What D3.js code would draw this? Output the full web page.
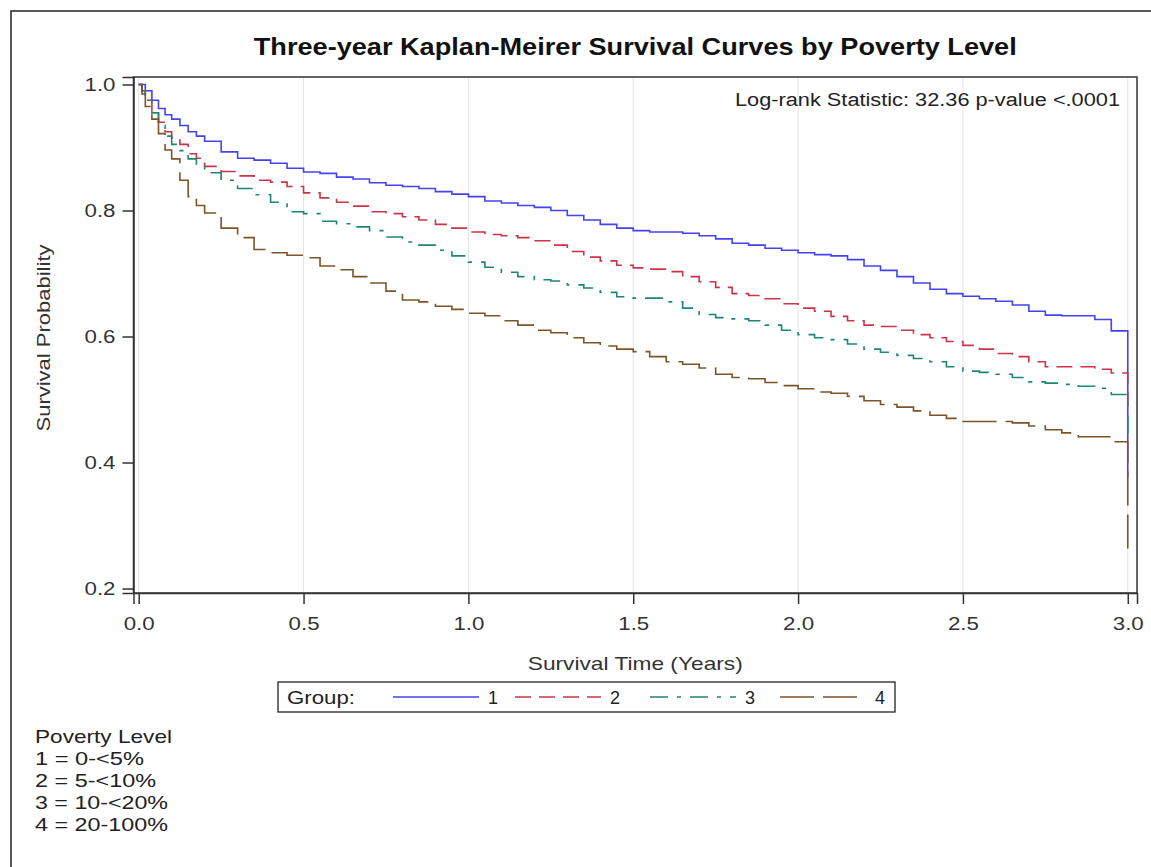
<!DOCTYPE html>
<html>
<head>
<meta charset="utf-8">
<script src="https://cdn.jsdelivr.net/npm/d3@7"></script>
<style>
  body { margin: 0; background: #fff; }
  svg { font-family: "Liberation Sans", Arial, sans-serif; }
</style>
</head>
<body>
<div id="chart"></div>
<script>
// time grid (years) and survival probabilities
var times = [0, 0.01, 0.02, 0.04, 0.06, 0.08, 0.1, 0.125, 0.15, 0.175, 0.2, 0.25, 0.3, 0.35, 0.4, 0.45, 0.5,
  0.55, 0.6, 0.65, 0.7, 0.75, 0.8, 0.85, 0.9, 0.95, 1.0, 1.05, 1.1, 1.15, 1.2, 1.25, 1.3, 1.35, 1.4, 1.45, 1.5,
  1.55, 1.6, 1.65, 1.7, 1.75, 1.8, 1.85, 1.9, 1.95, 2.0, 2.05, 2.1, 2.15, 2.2, 2.25, 2.3, 2.35, 2.4, 2.45, 2.5,
  2.55, 2.6, 2.65, 2.7, 2.75, 2.8, 2.85, 2.9, 2.95, 3.0];

var group1 = [1.0, 1.0, 0.99, 0.975, 0.962, 0.952, 0.945, 0.935, 0.925, 0.918, 0.91, 0.893, 0.883, 0.88, 0.875, 0.867, 0.861,
  0.859, 0.853, 0.85, 0.844, 0.84, 0.838, 0.835, 0.83, 0.826, 0.822, 0.815, 0.812, 0.808, 0.805, 0.8, 0.792, 0.785, 0.778, 0.772, 0.768,
  0.766, 0.766, 0.764, 0.76, 0.755, 0.748, 0.745, 0.74, 0.737, 0.733, 0.73, 0.728, 0.722, 0.712, 0.705, 0.695, 0.685, 0.675, 0.668, 0.664,
  0.66, 0.656, 0.65, 0.64, 0.634, 0.633, 0.633, 0.627, 0.609, 0.609];
var group2 = [1.0, 0.99, 0.975, 0.955, 0.94, 0.925, 0.915, 0.905, 0.89, 0.883, 0.87, 0.862, 0.855, 0.848, 0.845, 0.838, 0.828,
  0.82, 0.813, 0.807, 0.798, 0.795, 0.79, 0.785, 0.778, 0.772, 0.766, 0.762, 0.76, 0.757, 0.752, 0.745, 0.735, 0.726, 0.72, 0.713, 0.709,
  0.707, 0.703, 0.695, 0.687, 0.678, 0.668, 0.665, 0.66, 0.652, 0.645, 0.64, 0.632, 0.625, 0.618, 0.616, 0.61, 0.603, 0.598, 0.592, 0.586,
  0.58, 0.573, 0.568, 0.56, 0.552, 0.552, 0.552, 0.548, 0.542, 0.54];
var group3 = [1.0, 0.99, 0.975, 0.955, 0.935, 0.918, 0.905, 0.895, 0.882, 0.872, 0.86, 0.848, 0.835, 0.825, 0.813, 0.798, 0.795,
  0.783, 0.779, 0.774, 0.768, 0.758, 0.75, 0.745, 0.737, 0.728, 0.718, 0.71, 0.702, 0.695, 0.69, 0.688, 0.682, 0.677, 0.67, 0.663, 0.661,
  0.661, 0.655, 0.645, 0.635, 0.63, 0.628, 0.625, 0.618, 0.61, 0.603, 0.598, 0.595, 0.588, 0.58, 0.575, 0.57, 0.565, 0.56, 0.552, 0.545,
  0.543, 0.54, 0.535, 0.528, 0.526, 0.524, 0.521, 0.518, 0.508, 0.507];
var group4 = [1.0, 0.985, 0.965, 0.945, 0.922, 0.896, 0.882, 0.848, 0.822, 0.808, 0.796, 0.772, 0.757, 0.738, 0.733, 0.729, 0.725,
  0.712, 0.706, 0.695, 0.685, 0.672, 0.658, 0.655, 0.648, 0.643, 0.637, 0.633, 0.625, 0.618, 0.61, 0.606, 0.598, 0.59, 0.585, 0.58, 0.576,
  0.568, 0.56, 0.556, 0.55, 0.54, 0.535, 0.533, 0.527, 0.522, 0.517, 0.512, 0.51, 0.505, 0.498, 0.492, 0.488, 0.482, 0.475, 0.47, 0.465,
  0.465, 0.465, 0.463, 0.458, 0.452, 0.447, 0.441, 0.441, 0.433, 0.43];
// last drop at 3.0 years
var finalDrop = [0.377, 0.49, 0.44, 0.256];

var groupNames = ["1", "2", "3", "4"];
var colors = ["#4343f2", "#cc3347", "#1f8577", "#7b5427"];
var dashes = ["none", "16,8", "18,9,4,9", "34,9"];
var xTicks = [0, 0.5, 1.0, 1.5, 2.0, 2.5, 3.0];
var yTicks = [0.2, 0.4, 0.6, 0.8, 1.0];
var footLines = ["Poverty Level", "1 = 0-<5%", "2 = 5-<10%", "3 = 10-<20%", "4 = 20-100%"];
var footWidths = [137, 109, 121, 133, 133];

var W = 1151, H = 867;
var plot = { left: 133.5, top: 77, right: 1137, bottom: 593 };

var svg = d3.select("#chart").append("svg").attr("width", W).attr("height", H);

// outer frame
svg.append("rect").attr("x", 11).attr("y", 11).attr("width", W + 20).attr("height", H + 20)
  .attr("fill", "none").attr("stroke", "#222").attr("stroke-width", 1.5);

var x = d3.scaleLinear().domain([-0.0158, 3.028]).range([plot.left, plot.right]);
var y = d3.scaleLinear().domain([0.1929, 1.0119]).range([plot.bottom, plot.top]);

svg.append("text").attr("x", (plot.left + plot.right) / 2).attr("y", 55)
  .attr("text-anchor", "middle").attr("font-size", 24).attr("font-weight", "bold").attr("fill", "#111")
  .attr("textLength", 763).attr("lengthAdjust", "spacingAndGlyphs")
  .text("Three-year Kaplan-Meirer Survival Curves by Poverty Level");

// gridlines
svg.append("g").selectAll("line").data(xTicks).enter().append("line")
  .attr("x1", function(d) { return x(d); }).attr("x2", function(d) { return x(d); })
  .attr("y1", plot.top).attr("y2", plot.bottom)
  .attr("stroke", "#e3e3e3").attr("stroke-width", 1);

// curves
var line = d3.line().curve(d3.curveStepAfter)
  .x(function(d) { return x(d[0]); }).y(function(d) { return y(d[1]); });

[group1, group2, group3, group4].forEach(function(vals, i) {
  var pts = times.map(function(t, k) { return [t, vals[k]]; });
  pts.push([3.0, finalDrop[i]]);
  svg.append("path").datum(pts).attr("d", line)
    .attr("fill", "none").attr("stroke", colors[i]).attr("stroke-width", 1.6)
    .attr("stroke-dasharray", dashes[i]);
});

// frame
svg.append("rect").attr("x", plot.left).attr("y", plot.top)
  .attr("width", plot.right - plot.left).attr("height", plot.bottom - plot.top)
  .attr("fill", "none").attr("stroke", "#333").attr("stroke-width", 1.5);

var xAxis = svg.append("g").attr("transform", "translate(0," + plot.bottom + ")")
  .call(d3.axisBottom(x).tickValues(xTicks).tickFormat(d3.format(".1f")).tickSize(11).tickPadding(13));
var yAxis = svg.append("g").attr("transform", "translate(" + plot.left + ",0)")
  .call(d3.axisLeft(y).tickValues(yTicks).tickFormat(d3.format(".1f")).tickSize(11).tickPadding(7));
[xAxis, yAxis].forEach(function(g) {
  g.select(".domain").attr("stroke", "#333").attr("stroke-width", 1.5);
  g.selectAll(".tick line").attr("stroke", "#333").attr("stroke-width", 1.5);
  g.selectAll(".tick text").attr("font-size", 18).attr("fill", "#333")
    .attr("font-family", "'Liberation Sans', Arial, sans-serif")
    .attr("textLength", 31).attr("lengthAdjust", "spacingAndGlyphs");
});

svg.append("text").attr("x", (plot.left + plot.right) / 2).attr("y", 670)
  .attr("text-anchor", "middle").attr("font-size", 19).attr("fill", "#333")
  .attr("textLength", 215).attr("lengthAdjust", "spacingAndGlyphs")
  .text("Survival Time (Years)");
svg.append("text").attr("transform", "translate(50," + 338 + ") rotate(-90)")
  .attr("text-anchor", "middle").attr("font-size", 19).attr("fill", "#333")
  .attr("textLength", 187).attr("lengthAdjust", "spacingAndGlyphs")
  .text("Survival Probability");

svg.append("text").attr("x", 1120).attr("y", 106).attr("text-anchor", "end")
  .attr("font-size", 18).attr("fill", "#222")
  .attr("textLength", 385).attr("lengthAdjust", "spacingAndGlyphs")
  .text("Log-rank Statistic: 32.36 p-value <.0001");

// legend
var leg = svg.append("g");
leg.append("rect").attr("x", 278).attr("y", 682).attr("width", 617).attr("height", 30)
  .attr("fill", "#fff").attr("stroke", "#111").attr("stroke-width", 1.2);
leg.append("text").attr("x", 287).attr("y", 704).attr("font-size", 18).attr("fill", "#222")
  .attr("textLength", 68).attr("lengthAdjust", "spacingAndGlyphs").text("Group:");
var legX = [393, 515, 650, 780];
groupNames.forEach(function(name, i) {
  leg.append("line").attr("x1", legX[i]).attr("x2", legX[i] + 86).attr("y1", 697).attr("y2", 697)
    .attr("stroke", colors[i]).attr("stroke-width", 1.6).attr("stroke-dasharray", dashes[i]);
  leg.append("text").attr("x", legX[i] + 95).attr("y", 704).attr("font-size", 18).attr("fill", "#222").text(name);
});

// footnote
svg.append("g").selectAll("text").data(footLines).enter().append("text")
  .attr("x", 35).attr("y", function(d, i) { return 743 + i * 22; })
  .attr("font-size", 19).attr("fill", "#222")
  .attr("textLength", function(d, i) { return footWidths[i]; }).attr("lengthAdjust", "spacingAndGlyphs")
  .text(function(d) { return d; });
</script>
</body>
</html>
